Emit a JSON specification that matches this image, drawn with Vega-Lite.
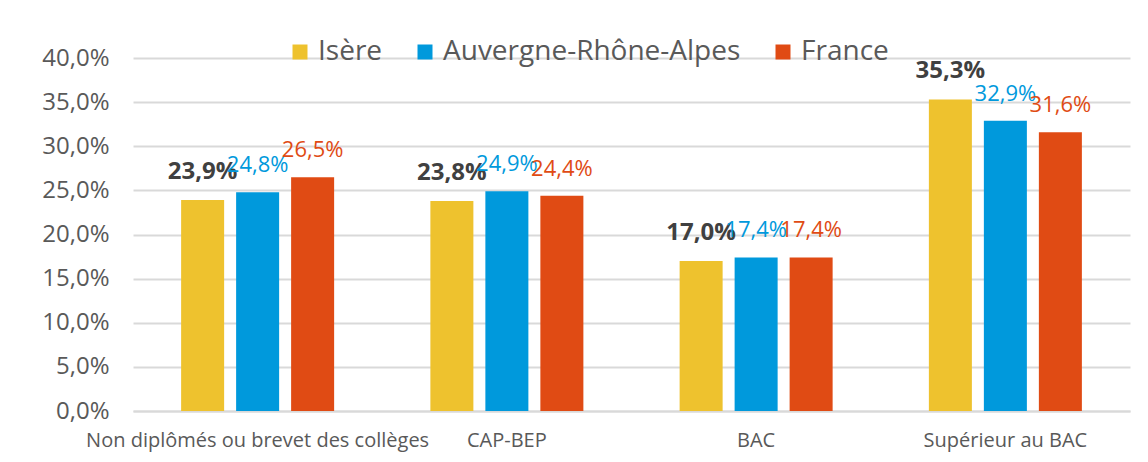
{
  "$schema": "https://vega.github.io/schema/vega-lite/v6.json",
  "autosize": "none",
  "width": 997,
  "height": 353,
  "padding": {"left": 133, "top": 58, "right": 18, "bottom": 51},
  "background": "white",
  "config": {
    "font": "Open Sans",
    "view": {"stroke": null},
    "locale": {"number": {"decimal": ",", "thousands": " ", "grouping": [3], "currency": ["", " €"]}}
  },
  "data": {
    "values": [
      {"niveau": "Non diplômés ou brevet des collèges", "zone": "Isère", "part": 0.239},
      {"niveau": "Non diplômés ou brevet des collèges", "zone": "Auvergne-Rhône-Alpes", "part": 0.248},
      {"niveau": "Non diplômés ou brevet des collèges", "zone": "France", "part": 0.265},
      {"niveau": "CAP-BEP", "zone": "Isère", "part": 0.238},
      {"niveau": "CAP-BEP", "zone": "Auvergne-Rhône-Alpes", "part": 0.249},
      {"niveau": "CAP-BEP", "zone": "France", "part": 0.244},
      {"niveau": "BAC", "zone": "Isère", "part": 0.170},
      {"niveau": "BAC", "zone": "Auvergne-Rhône-Alpes", "part": 0.174},
      {"niveau": "BAC", "zone": "France", "part": 0.174},
      {"niveau": "Supérieur au BAC", "zone": "Isère", "part": 0.353},
      {"niveau": "Supérieur au BAC", "zone": "Auvergne-Rhône-Alpes", "part": 0.329},
      {"niveau": "Supérieur au BAC", "zone": "France", "part": 0.316}
    ]
  },
  "encoding": {
    "x": {
      "field": "niveau", "type": "nominal", "sort": null,
      "scale": {"paddingInner": 0, "paddingOuter": 0},
      "axis": {"title": null, "labelAngle": 0, "labelFontSize": 20, "labelColor": "#595959", "labelPadding": 19, "ticks": false, "domain": true, "domainColor": "#D9D9D9", "domainWidth": 2, "labelLimit": 0, "labelOverlap": false}
    },
    "xOffset": {
      "field": "zone", "type": "nominal",
      "scale": {"domain": ["Isère", "Auvergne-Rhône-Alpes", "France"], "paddingInner": 0.218, "paddingOuter": 0.875}
    },
    "y": {
      "field": "part", "type": "quantitative",
      "scale": {"domain": [0, 0.4], "nice": false},
      "axis": {"title": null, "format": ".1%", "values": [0, 0.05, 0.1, 0.15, 0.2, 0.25, 0.3, 0.35, 0.4], "labelOverlap": false, "labelFontSize": 24, "labelColor": "#595959", "labelPadding": 24, "ticks": false, "domain": false, "gridColor": "#D9D9D9", "gridWidth": 2}
    }
  },
  "layer": [
    {
      "mark": {"type": "bar"},
      "encoding": {
        "color": {
          "field": "zone", "type": "nominal",
          "scale": {"domain": ["Isère", "Auvergne-Rhône-Alpes", "France"], "range": ["#EEC22E", "#0099DC", "#E04B14"]},
          "legend": {
            "title": null, "orient": "none", "direction": "horizontal",
            "legendX": 153, "legendY": -20,
            "symbolType": "square", "symbolSize": 225, "symbolStrokeWidth": 0,
            "labelFontSize": 28, "labelColor": "#595959", "labelOffset": 4,
            "columnPadding": 28, "labelLimit": 0
          }
        }
      }
    },
    {
      "transform": [{"filter": "datum.zone === 'Isère'"}],
      "mark": {"type": "text", "fontSize": 24, "fontWeight": "bold", "color": "#404040", "baseline": "middle", "dy": -28},
      "encoding": {"text": {"field": "part", "type": "quantitative", "format": ".1%"}}
    },
    {
      "transform": [{"filter": "datum.zone !== 'Isère'"}],
      "mark": {"type": "text", "fontSize": 22, "baseline": "middle", "dy": -27},
      "encoding": {
        "text": {"field": "part", "type": "quantitative", "format": ".1%"},
        "color": {"field": "zone", "type": "nominal", "legend": null}
      }
    }
  ]
}
